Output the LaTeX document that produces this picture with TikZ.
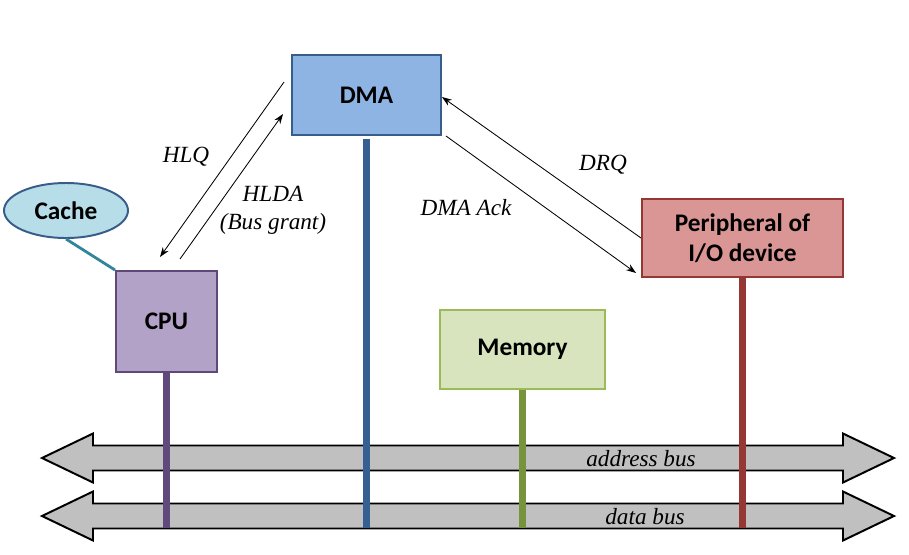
\documentclass[tikz,border=0pt]{standalone}
\usepackage{fontspec}
\setmainfont{Liberation Serif}
\setsansfont{Carlito}
\usetikzlibrary{arrows.meta,shapes.geometric}

\definecolor{dmafill}{HTML}{8EB4E3}
\definecolor{dmaline}{HTML}{385D8A}
\definecolor{dmabar}{HTML}{376092}
\definecolor{cpufill}{HTML}{B3A2C7}
\definecolor{cpuline}{HTML}{5F497A}
\definecolor{cpubar}{HTML}{604A7B}
\definecolor{cachefill}{HTML}{B7DEE8}
\definecolor{cacheline}{HTML}{385D8A}
\definecolor{cachelink}{HTML}{31859C}
\definecolor{perfill}{HTML}{D99694}
\definecolor{perline}{HTML}{953735}
\definecolor{memfill}{HTML}{D7E4BD}
\definecolor{memline}{HTML}{9BBB59}
\definecolor{membar}{HTML}{77933C}
\definecolor{busfill}{HTML}{C0C0C0}

\tikzset{
  box/.style={draw, line width=1.4pt, align=center, inner sep=0pt,
    font=\sffamily\bfseries\fontsize{18}{21}\selectfont},
  sig/.style={-{Stealth[length=7pt,width=5pt]}, line width=0.6pt},
  bar/.style={line width=4.3pt},
  lbl/.style={font=\itshape\fontsize{16.5}{20}\selectfont, align=center},
  bus/.style={draw=black, line width=1.4pt, fill=busfill}
}

\begin{document}
\begin{tikzpicture}
\useasboundingbox (0,0) rectangle (22.725,-13.85);

% boxes
\node[box, fill=dmafill, draw=dmaline, minimum width=3.725cm, minimum height=2cm] (dma) at (9.1625,-2.375) {DMA};
\node[box, fill=cpufill, draw=cpuline, minimum width=2.525cm, minimum height=2.525cm] (cpu) at (4.1625,-8.0375) {CPU};
\node[box, ellipse, fill=cachefill, draw=cacheline, minimum width=3.1cm, minimum height=1.375cm] (cache) at (1.65,-5.2625) {Cache};
\node[box, fill=perfill, draw=perline, minimum width=5.025cm, minimum height=1.95cm] (per) at (18.5625,-5.95) {Peripheral of\\I/O device};
\node[box, fill=memfill, draw=memline, minimum width=4.125cm, minimum height=1.975cm] (mem) at (13.0625,-8.7375) {Memory};

\draw[cachelink, line width=2pt] (cache.south) -- (cpu.north west);

% buses
\foreach \y in {-11.45,-12.9}{
  \draw[bus] (1.05,\y) -- (2.325,\y+0.6125) -- (2.325,\y+0.3125) -- (21.075,\y+0.3125)
    -- (21.075,\y+0.6125) -- (22.35,\y) -- (21.075,\y-0.6125) -- (21.075,\y-0.3125)
    -- (2.325,\y-0.3125) -- (2.325,\y-0.6125) -- cycle;
}
\node[lbl] (abus) at (16.025,-11.475) {address bus};
\node[lbl] (dbus) at (16.125,-12.925) {data bus};

\coordinate (bot) at (0,-13.2);

% bus lines
\draw[bar, cpubar] (cpu.south) -- (cpu.south |- bot);
\draw[bar, dmabar] ([yshift=-0.075cm]dma.south) -- (dma.south |- bot);
\draw[bar, membar] (mem.south) -- (mem.south |- bot);
\draw[bar, perline] (per.south) -- (per.south |- bot);

% signals
\draw[sig] ([shift={(-0.175,-0.7)}]dma.north west) -- ([shift={(-0.1625,0.325)}]cpu.north);
\draw[sig] ([shift={(0.3375,0.275)}]cpu.north) -- ([shift={(-0.2,-0.475)}]dma.west);
\draw[sig] (per.west) -- ([yshift=-0.05cm]dma.east);
\draw[sig] ([xshift=0.1cm]dma.south east) -- ([shift={(-0.125,0.125)}]per.south west);

\node[lbl] (hlq) at (4.65,-3.925) {HLQ};
\node[lbl] (hlda) at (6.825,-5.25) {HLDA\\(Bus grant)};
\node[lbl] (ack) at (11.65,-5.2) {DMA Ack};
\node[lbl] (drq) at (15.075,-4.125) {DRQ};
\end{tikzpicture}
\end{document}
